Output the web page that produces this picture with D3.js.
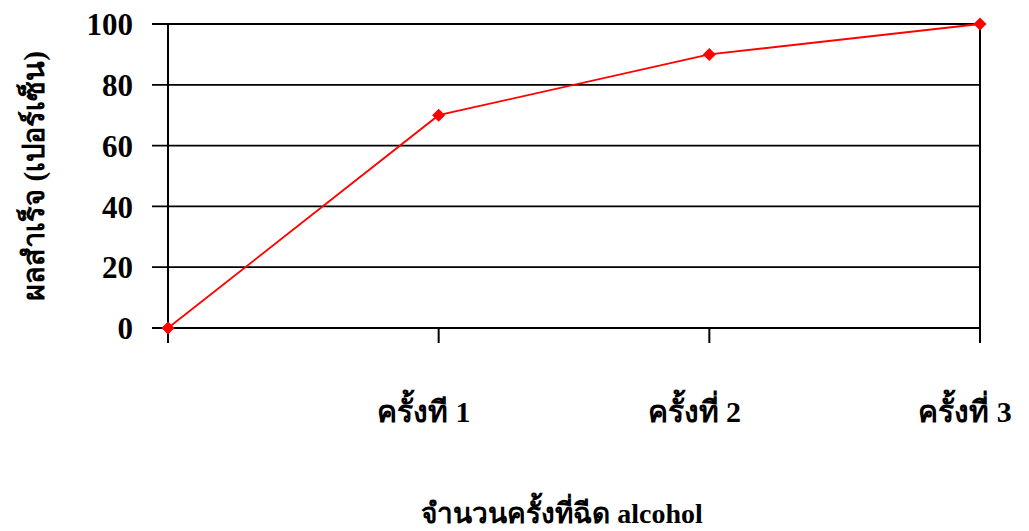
<!DOCTYPE html>
<html>
<head>
<meta charset="utf-8">
<script src="https://cdn.jsdelivr.net/npm/d3@7"></script>
<style>
  body { margin: 0; background: #fff; }
  text { font-family: "Liberation Serif", "Times New Roman", serif; font-weight: bold; fill: #000; }
</style>
</head>
<body>
<svg id="chart" width="1029" height="531"></svg>
<script>
// chart values
const categories = ["", "ครั้งที 1", "ครั้งที่ 2", "ครั้งที่ 3"];
const successPct = [0, 70, 90, 100];
const yTicks = [0, 20, 40, 60, 80, 100];
const xTitle = "จำนวนครั้งที่ฉีด alcohol";
const yTitle = "ผลสำเร็จ (เปอร์เซ็น)";

const width = 1029, height = 531;
const margin = { top: 24, right: 49, bottom: 203, left: 168 };
const innerW = width - margin.left - margin.right;
const innerH = height - margin.top - margin.bottom;

const svg = d3.select('#chart');
const g = svg.append('g').attr('transform', `translate(${margin.left},${margin.top})`);

const x = d3.scalePoint().domain(categories).range([0, innerW]);
const y = d3.scaleLinear().domain([0, 100]).range([innerH, 0]);

// gridlines + y ticks
g.append('g')
  .selectAll('line')
  .data(yTicks)
  .enter()
  .append('line')
  .attr('x1', -16)
  .attr('x2', innerW)
  .attr('y1', d => y(d))
  .attr('y2', d => y(d))
  .attr('stroke', '#000')
  .attr('stroke-width', 1.8);

g.append('g')
  .selectAll('text')
  .data(yTicks)
  .enter()
  .append('text')
  .attr('x', -35)
  .attr('y', d => y(d))
  .attr('dy', '0.36em')
  .attr('text-anchor', 'end')
  .style('font-size', '31px')
  .text(d => d);

// left + right border
g.append('line').attr('x1', 0).attr('x2', 0).attr('y1', 0).attr('y2', innerH + 15)
  .attr('stroke', '#000').attr('stroke-width', 2);
g.append('line').attr('x1', innerW).attr('x2', innerW).attr('y1', 0).attr('y2', innerH + 15)
  .attr('stroke', '#000').attr('stroke-width', 2);

// x ticks
g.append('g')
  .selectAll('line')
  .data(categories)
  .enter()
  .append('line')
  .attr('x1', d => x(d))
  .attr('x2', d => x(d))
  .attr('y1', innerH)
  .attr('y2', innerH + 15)
  .attr('stroke', '#000')
  .attr('stroke-width', 2);

g.append('g')
  .selectAll('text')
  .data(categories)
  .enter()
  .append('text')
  .attr('x', d => x(d) - 15)
  .attr('y', innerH + 94)
  .attr('text-anchor', 'middle')
  .style('font-size', '30px')
  .text(d => d);

// line
const line = d3.line()
  .x((d, i) => x(categories[i]))
  .y(d => y(d));

g.append('path')
  .datum(successPct)
  .attr('fill', 'none')
  .attr('stroke', '#ff0000')
  .attr('stroke-width', 1.8)
  .attr('d', line);

// diamond markers
g.append('g')
  .selectAll('path')
  .data(successPct)
  .enter()
  .append('path')
  .attr('transform', (d, i) => `translate(${x(categories[i])},${y(d)}) rotate(45)`)
  .attr('d', d3.symbol().type(d3.symbolSquare).size(85))
  .attr('fill', '#ff0000');

// axis titles
svg.append('text')
  .attr('x', margin.left + innerW / 2 - 12)
  .attr('y', 523)
  .attr('text-anchor', 'middle')
  .style('font-size', '28px')
  .text(xTitle);

svg.append('text')
  .attr('transform', `translate(44, ${margin.top + innerH / 2}) rotate(-90)`)
  .attr('text-anchor', 'middle')
  .style('font-size', '29px')
  .text(yTitle);
</script>
</body>
</html>
